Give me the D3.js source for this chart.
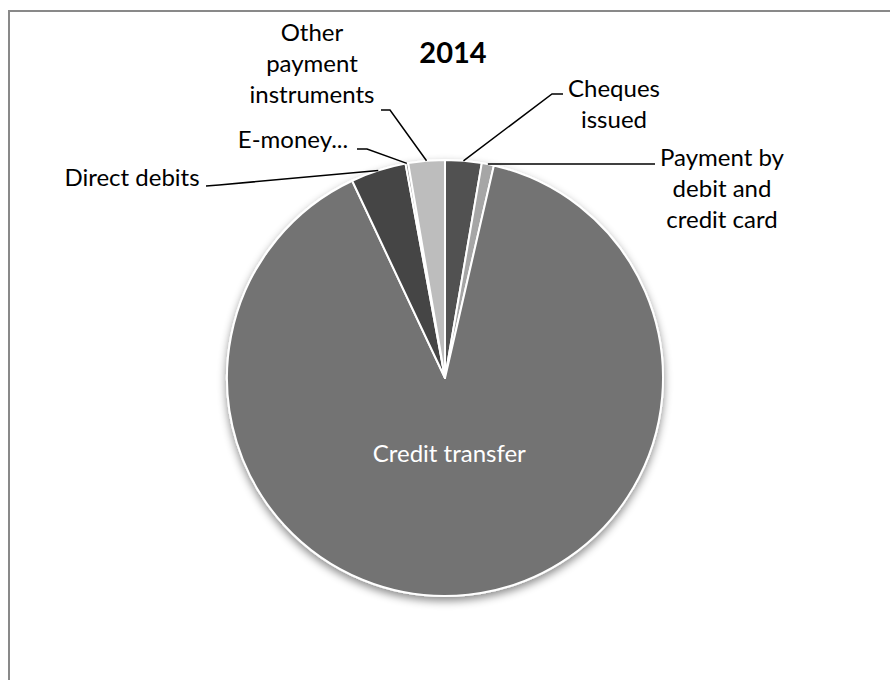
<!DOCTYPE html>
<html>
<head>
<meta charset="utf-8">
<script src="https://cdn.jsdelivr.net/npm/d3@7"></script>
<style>
  html, body { margin: 0; padding: 0; background: #fff; }
  svg { display: block; }
  text { font-family: Lato, "Open Sans", sans-serif; }
</style>
</head>
<body>
<svg id="chart" width="890" height="680"></svg>
<script>
// Payment instruments, share of transactions, 2014 (percent)
const categories = [
  "Cheques issued",
  "Payment by debit and credit card",
  "Credit transfer",
  "Direct debits",
  "E-money...",
  "Other payment instruments"
];
const values = [2.7, 0.9, 89.4, 4.1, 0.2, 2.7];
const sliceColors = ["#515151", "#a6a6a6", "#737373", "#444444", "#8a8a8a", "#bdbdbd"];
const title = "2014";

// Text lines for each outside label (wrapped as displayed)
const labelLines = [
  ["Cheques", "issued"],
  ["Payment by", "debit and", "credit card"],
  ["Credit transfer"],
  ["Direct debits"],
  ["E-money..."],
  ["Other", "payment", "instruments"]
];

const svg = d3.select("#chart");
const W = 890, H = 680;
const cx = 445, cy = 378, R = 218;

// chart frame
svg.append("rect")
  .attr("x", 9).attr("y", 11)
  .attr("width", 1000).attr("height", 1000)
  .attr("fill", "none")
  .attr("stroke", "#898989")
  .attr("stroke-width", 2);

// soft drop shadow under the pie
const defs = svg.append("defs");
const f = defs.append("filter").attr("id", "shadow")
  .attr("x", "-20%").attr("y", "-20%").attr("width", "140%").attr("height", "140%");
f.append("feDropShadow")
  .attr("dx", 0).attr("dy", 4).attr("stdDeviation", 4)
  .attr("flood-color", "#000").attr("flood-opacity", 0.45);

// title
svg.append("text")
  .attr("x", 453).attr("y", 63)
  .attr("text-anchor", "middle")
  .attr("font-size", 29)
  .attr("font-weight", "bold")
  .attr("fill", "#000")
  .text(title);

const data = categories.map((c, i) => ({ name: c, value: values[i], color: sliceColors[i], lines: labelLines[i] }));

const pie = d3.pie().sort(null).value(d => d.value);
const arcs = pie(data);
const arc = d3.arc().innerRadius(0).outerRadius(R);

const g = svg.append("g").attr("transform", `translate(${cx},${cy})`);

g.append("g").attr("filter", "url(#shadow)")
  .selectAll("path")
  .data(arcs)
  .join("path")
  .attr("d", arc)
  .attr("fill", d => d.data.color)
  .attr("stroke", "#fff")
  .attr("stroke-width", 2)
  .attr("stroke-linejoin", "round");

// point on the pie edge at a slice's mid angle
function edgePoint(a, r) {
  const m = (a.startAngle + a.endAngle) / 2;
  return [cx + r * Math.sin(m), cy - r * Math.cos(m)];
}

// outside label layout: text anchor point (center x, first baseline), and leader path knee
const fontSize = 24, lineGap = 31;
const outside = {
  0: { x: 614, y: 97, knee: [[563, 94], [552, 94]] },
  1: { x: 722, y: 166, knee: [[655, 164]] , flatEdge: true },
  3: { x: 132, y: 186, knee: [[206, 186], [219, 185]] },
  4: { x: 293, y: 148, knee: [[357, 149], [367, 149]] },
  5: { x: 312, y: 41, knee: [[381, 110], [390, 110]] }
};

const labels = svg.append("g");
arcs.forEach((a, i) => {
  const d = a.data;
  if (i === 2) {
    // label inside the dominant slice
    const inner = d3.arc().innerRadius(78).outerRadius(78).centroid(a);
    labels.append("text")
      .attr("x", cx + inner[0] - 4).attr("y", cy + inner[1] + 6)
      .attr("text-anchor", "middle")
      .attr("font-size", fontSize)
      .attr("fill", "#fff")
      .text(d.lines[0]);
    return;
  }
  const o = outside[i];
  const t = labels.append("text")
    .attr("text-anchor", "middle")
    .attr("font-size", fontSize)
    .attr("fill", "#000");
  d.lines.forEach((ln, k) => {
    t.append("tspan").attr("x", o.x).attr("y", o.y + k * lineGap).text(ln);
  });
  let e = edgePoint(a, R);
  if (o.flatEdge) e = [e[0], o.knee[0][1]];
  const pts = o.knee.concat([e]);
  labels.append("path")
    .attr("d", d3.line()(pts))
    .attr("fill", "none")
    .attr("stroke", "#000")
    .attr("stroke-width", 1.5);
});
</script>
</body>
</html>
